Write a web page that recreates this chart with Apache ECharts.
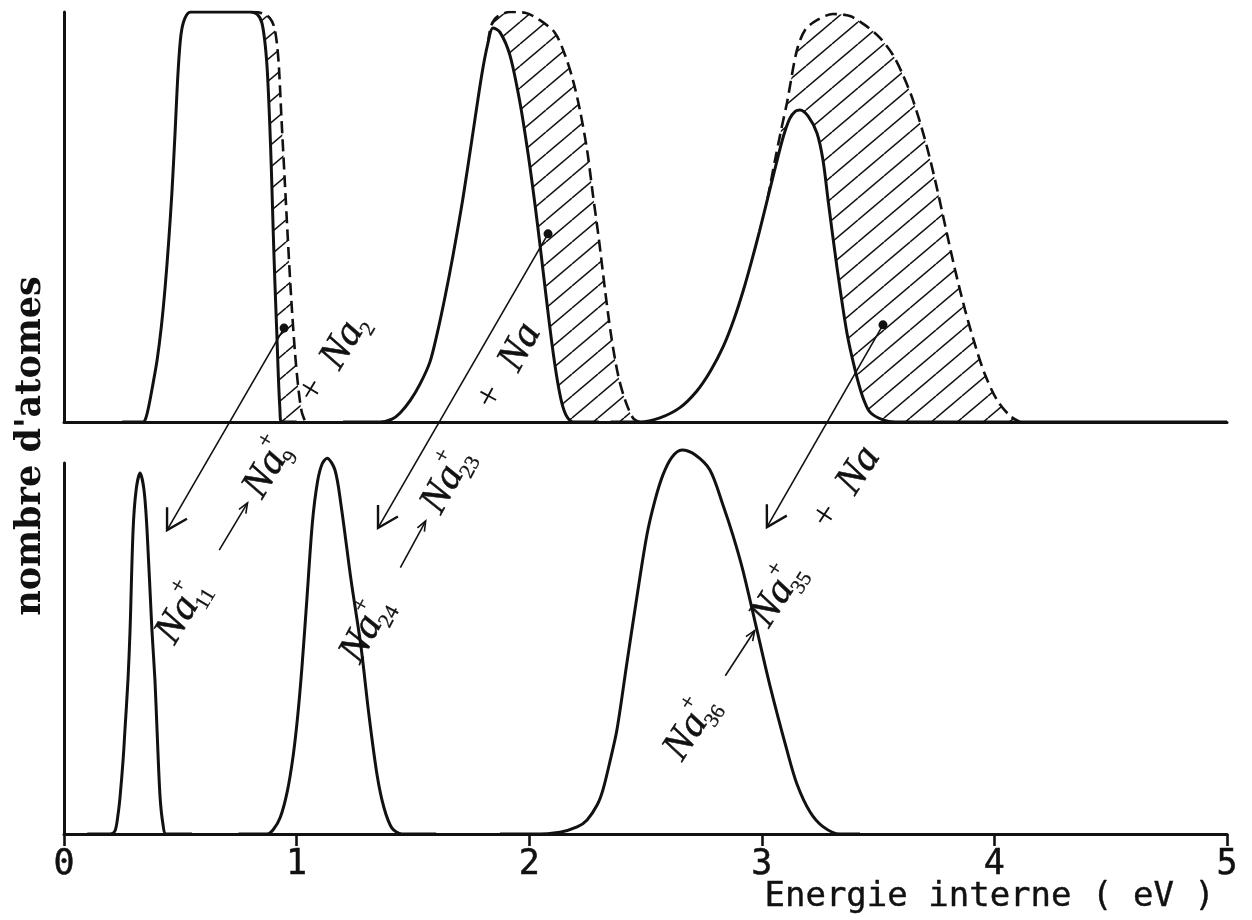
<!DOCTYPE html>
<html><head><meta charset="utf-8">
<script src="https://cdn.jsdelivr.net/npm/echarts@6/dist/echarts.min.js"></script>
<style>html,body{margin:0;padding:0;background:#fff}#c{width:1252px;height:920px}</style>
</head><body><div id="c"></div>
<script>
// ---------- data (x = internal energy in eV, y = relative number of atoms) ----------
const xTicks = [0, 1, 2, 3, 4, 5];
const xTitle = 'Energie interne ( eV )';
const yTitle = "nombre d'atomes";

// upper panel : solid distributions
const topSolid1 = [[0.25,0],[0.340,0],[0.352,0.010],[0.365,0.040],[0.380,0.085],[0.400,0.150],[0.418,0.230],[0.435,0.330],[0.450,0.440],[0.464,0.560],[0.477,0.700],[0.490,0.850],[0.503,0.945],[0.520,0.985],[0.545,1.0],[0.680,1.0],[0.800,1.0],[0.830,0.995],[0.850,0.975],[0.863,0.930],[0.873,0.866],[0.881,0.775],[0.888,0.675],[0.894,0.570],[0.900,0.455],[0.907,0.335],[0.915,0.215],[0.922,0.105],[0.928,0.035],[0.935,0],[1.0,0]];
const topSolid2 = [[1.20,0],[1.359,0],[1.410,0.007],[1.445,0.022],[1.488,0.052],[1.531,0.093],[1.573,0.146],[1.604,0.215],[1.638,0.305],[1.672,0.405],[1.715,0.545],[1.754,0.690],[1.797,0.850],[1.823,0.925],[1.844,0.961],[1.874,0.951],[1.917,0.895],[1.960,0.780],[1.995,0.655],[2.025,0.530],[2.050,0.415],[2.075,0.295],[2.098,0.190],[2.120,0.105],[2.141,0.045],[2.163,0.012],[2.190,0],[2.30,0]];
const topSolid3 = [[2.35,0],[2.476,0],[2.562,0.010],[2.648,0.035],[2.720,0.075],[2.780,0.125],[2.835,0.185],[2.880,0.250],[2.920,0.320],[2.955,0.390],[2.990,0.465],[3.025,0.545],[3.060,0.625],[3.092,0.695],[3.120,0.740],[3.145,0.758],[3.164,0.761],[3.199,0.746],[3.237,0.705],[3.263,0.639],[3.285,0.541],[3.323,0.378],[3.366,0.217],[3.401,0.127],[3.431,0.066],[3.465,0.024],[3.521,0.005],[3.573,0],[5.0,0]];
// upper panel : dashed envelopes (hatched part = evaporating clusters)
const topDash1 = [[0.800,1.0],[0.821,1.0],[0.860,0.995],[0.885,0.985],[0.903,0.965],[0.915,0.925],[0.924,0.866],[0.935,0.740],[0.948,0.600],[0.962,0.450],[0.977,0.300],[0.993,0.170],[1.008,0.080],[1.022,0.025],[1.038,0]];
const topDash2 = [[1.823,0.925],[1.836,0.966],[1.862,0.988],[1.917,1.0],[1.982,0.998],[2.046,0.980],[2.111,0.949],[2.154,0.895],[2.188,0.834],[2.218,0.761],[2.249,0.663],[2.274,0.554],[2.300,0.444],[2.326,0.322],[2.352,0.212],[2.382,0.115],[2.412,0.054],[2.446,0.010],[2.476,0]];
const topDash3 = [[3.025,0.545],[3.057,0.639],[3.083,0.712],[3.108,0.778],[3.151,0.907],[3.186,0.956],[3.237,0.980],[3.306,0.995],[3.379,0.990],[3.444,0.968],[3.508,0.937],[3.564,0.895],[3.607,0.846],[3.650,0.785],[3.702,0.688],[3.745,0.590],[3.788,0.480],[3.831,0.371],[3.874,0.273],[3.917,0.188],[3.960,0.115],[4.011,0.054],[4.067,0.015],[4.110,0]];
// lower panel
const botPeak1 = [[0.10,0],[0.198,0],[0.219,0.008],[0.232,0.051],[0.241,0.100],[0.254,0.199],[0.262,0.280],[0.275,0.415],[0.284,0.550],[0.297,0.819],[0.310,0.927],[0.327,0.973],[0.344,0.927],[0.357,0.819],[0.378,0.550],[0.391,0.415],[0.400,0.280],[0.413,0.100],[0.426,0.024],[0.439,0],[0.55,0]];
const botPeak2 = [[0.75,0],[0.873,0],[0.900,0.012],[0.930,0.045],[0.960,0.115],[0.985,0.210],[1.005,0.320],[1.023,0.450],[1.045,0.640],[1.068,0.840],[1.090,0.950],[1.110,0.998],[1.131,1.013],[1.165,0.981],[1.191,0.887],[1.234,0.685],[1.277,0.504],[1.311,0.321],[1.346,0.159],[1.376,0.070],[1.410,0.016],[1.453,0],[1.60,0]];
const botPeak3 = [[1.874,0],[2.016,0],[2.132,0.005],[2.206,0.019],[2.249,0.038],[2.292,0.078],[2.317,0.119],[2.347,0.195],[2.377,0.280],[2.420,0.461],[2.463,0.639],[2.506,0.806],[2.541,0.900],[2.575,0.968],[2.614,1.016],[2.657,1.035],[2.713,1.022],[2.777,0.981],[2.833,0.887],[2.876,0.805],[2.919,0.710],[2.979,0.550],[3.035,0.400],[3.108,0.226],[3.151,0.135],[3.207,0.060],[3.263,0.020],[3.336,0],[3.422,0]];

// arrows: from a point in the hatched area (upper panel) to the daughter peak (lower panel)
const arrowFrom = [[0.946,0.229],[2.081,0.459],[3.521,0.237]];
const arrowTo   = [[0.443,0.819],[1.350,0.825],[3.022,0.827]];

// reaction labels
const reactions = [
  {parent:'11', daughter:'9',  loss:'2'},
  {parent:'24', daughter:'23', loss:''},
  {parent:'36', daughter:'35', loss:''}
];

// ---------- styles / layout ----------
const INK = '#111';
const hatch = (function(){
  const c = document.createElement('canvas');
  const W = 26, H = 22; c.width = W; c.height = H;
  const g = c.getContext('2d');
  g.strokeStyle = INK; g.lineWidth = 1.5;
  for (const k of [-1,0,1]) { g.beginPath(); g.moveTo(0, H + k*H); g.lineTo(W, k*H); g.stroke(); }
  return c;
})();

const chart = echarts.init(document.getElementById('c'), null, {renderer:'canvas'});
const SM = {smooth:0.3};
function solidTop(d){ return Object.assign({type:'line', xAxisIndex:0, yAxisIndex:0, data:d, symbol:'none', z:4,
  lineStyle:{color:INK, width:3}, areaStyle:{color:'#fff', opacity:1}}, SM); }
function dashTop(d){ return Object.assign({type:'line', xAxisIndex:0, yAxisIndex:0, data:d, symbol:'none', z:3,
  lineStyle:{color:INK, width:2.6, type:[12,6]}, areaStyle:{color:{image:hatch, repeat:'repeat'}, opacity:1}}, SM); }
function bot(d){ return Object.assign({type:'line', xAxisIndex:1, yAxisIndex:1, data:d, symbol:'none', clip:false, z:4,
  lineStyle:{color:INK, width:3}}, SM); }

const axisLine = {show:true, onZero:false, lineStyle:{color:INK, width:3}};
const option = {
  backgroundColor:'#fff',
  animation:false,
  grid:[
    {left:64, width:1163, top:12, height:410},
    {left:64, width:1163, top:463, height:371}
  ],
  xAxis:[
    {gridIndex:0, type:'value', min:0, max:5, z:6, axisLine:axisLine, axisTick:{show:false}, axisLabel:{show:false}, splitLine:{show:false}},
    {gridIndex:1, type:'value', min:xTicks[0], max:xTicks[xTicks.length-1], interval:1, z:6, axisLine:axisLine,
      axisTick:{show:true, length:12, lineStyle:{color:INK, width:2.6}},
      axisLabel:{show:true, margin:13, color:INK, fontFamily:'DejaVu Sans Mono', fontSize:35, textBorderColor:INK, textBorderWidth:0.5,
        formatter:v => xTicks.includes(v) ? String(v) : ''},
      splitLine:{show:false}}
  ],
  yAxis:[
    {gridIndex:0, type:'value', min:0, max:1, axisLine:axisLine, axisTick:{show:false}, axisLabel:{show:false}, splitLine:{show:false}},
    {gridIndex:1, type:'value', min:0, max:1, axisLine:axisLine, axisTick:{show:false}, axisLabel:{show:false}, splitLine:{show:false}}
  ],
  series:[
    dashTop(topDash1), dashTop(topDash2), dashTop(topDash3),
    solidTop(topSolid1), solidTop(topSolid2), solidTop(topSolid3),
    bot(botPeak1), bot(botPeak2), bot(botPeak3)
  ]
};
chart.setOption(option);

// ---------- annotations ----------
const ZT = 30;
const serifIt = {fontFamily:'Liberation Serif', fontStyle:'italic', fontSize:41, fill:INK, stroke:INK, lineWidth:0.5};
const serifSm = {fontFamily:'Liberation Serif', fontSize:21, fill:INK, stroke:INK, lineWidth:0.3};
function txt(x, y, s, st, align){ return {type:'text', z:ZT, x:x, y:y, style:Object.assign({text:s, align:align||'left', verticalAlign:'middle'}, st)}; }
function ion(at, sub, sup){
  const out = [txt(at, 0, 'Na', serifIt)];
  if (sub) out.push(txt(at+46, 14, sub, serifSm));
  if (sup) out.push(txt(at+47, -16, sup, Object.assign({}, serifSm, {fontSize:23})));
  return out;
}
// label layouts: baseline start (px), angle (deg), positions along the text line
const labelLayout = [
  {base:[160,637], angle:59,   arrow:[105,160], second:170, plus:290, third:320},
  {base:[345,657], angle:61.5, arrow:[105,158], second:170, plus:298, third:332},
  {base:[668,753], angle:57,   arrow:[96,150],  second:159, plus:285, third:317}
];
const graphics = [];
reactions.forEach((r, i) => {
  const L = labelLayout[i];
  const a = L.angle*Math.PI/180;
  const vx = Math.sin(a), vy = Math.cos(a);
  const ox = L.base[0] + 6*vx, oy = L.base[1] + 6*vy;
  let ch = [];
  ch = ch.concat(ion(0, r.parent, '+'));
  ch.push({type:'line', z:ZT, shape:{x1:L.arrow[0], y1:0, x2:L.arrow[1], y2:0}, style:{stroke:INK, lineWidth:1.6}});
  ch.push({type:'polyline', z:ZT, shape:{points:[[L.arrow[1]-10,-4],[L.arrow[1],0],[L.arrow[1]-10,4]]}, style:{stroke:INK, lineWidth:1.6, fill:null}});
  ch = ch.concat(ion(L.second, r.daughter, '+'));
  ch.push(txt(L.plus, -2, '+', {fontFamily:'Liberation Serif', fontSize:38, fill:INK}, 'center'));
  ch = ch.concat(ion(L.third, r.loss, ''));
  graphics.push({type:'group', x:ox, y:oy, rotation:a, z:ZT, children:ch});
});
// long arrows through the library's coordinate system
arrowFrom.forEach((f, i) => {
  const p0 = chart.convertToPixel({gridIndex:0}, f);
  const p1 = chart.convertToPixel({gridIndex:1}, arrowTo[i]);
  const dx = p1[0]-p0[0], dy = p1[1]-p0[1], len = Math.hypot(dx, dy);
  const ux = dx/len, uy = dy/len, th = 30*Math.PI/180, Lh = 23;
  const arm = s => [p1[0] - Lh*(ux*Math.cos(th) - s*uy*Math.sin(th)), p1[1] - Lh*(uy*Math.cos(th) + s*ux*Math.sin(th))];
  graphics.push({type:'line', z:ZT, shape:{x1:p0[0], y1:p0[1], x2:p1[0], y2:p1[1]}, style:{stroke:INK, lineWidth:1.6}});
  graphics.push({type:'polyline', z:ZT, shape:{points:[arm(1), p1, arm(-1)]}, style:{stroke:INK, lineWidth:2.4, fill:null}});
  graphics.push({type:'circle', z:ZT+1, shape:{cx:p0[0], cy:p0[1], r:4.5}, style:{fill:INK}});
});
// axis titles
graphics.push({type:'text', x:31, y:446, rotation:Math.PI/2, z:ZT,
  style:{text:yTitle, fontFamily:'DejaVu Serif', fontWeight:'bold', fontSize:35, fill:INK, align:'center', verticalAlign:'middle'}});
graphics.push({type:'text', right:37, top:880, z:ZT,
  style:{text:xTitle, fontFamily:'DejaVu Sans Mono', fontSize:34, fill:INK, stroke:INK, lineWidth:0.4}});
chart.setOption({graphic:graphics});
</script>
</body></html>
